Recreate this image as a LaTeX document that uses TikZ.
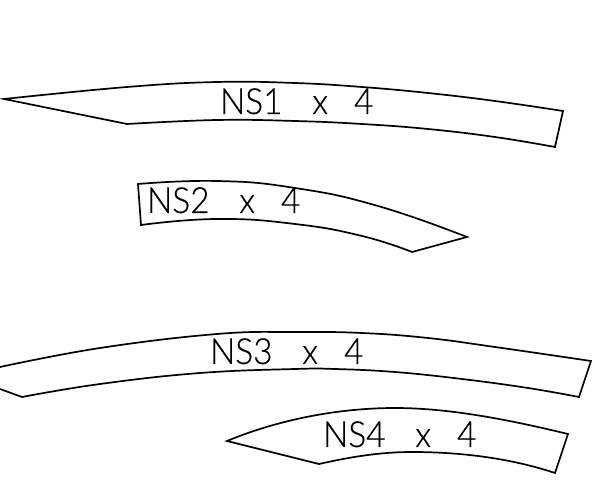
\documentclass[tikz,border=0pt]{standalone}
\usepackage{fontspec}
\setmainfont{Lato}[UprightFont=* Light,FakeBold=0.35,AutoFakeBold=false]
\tikzset{
  outline/.style={draw=black,line width=1.7pt,line join=miter},
  tag/.style={anchor=base west,inner sep=0pt,outer sep=0pt,text=black},
}
\newcommand{\nslabel}[1]{\scalebox{0.93}[1]{\fontsize{36pt}{36pt}\selectfont #1}}
\newcommand{\gapx}{\hspace*{32pt}}
\newcommand{\gapy}{\hspace*{28pt}}
\begin{document}
\begin{tikzpicture}[x=1pt,y=-1pt]
\useasboundingbox (0,0) rectangle (595,486);
\fill[white] (0,0) rectangle (595,486);
% NS1
\draw[outline] (4,99) -- plot[smooth,tension=0.7] coordinates {(4,99) (127,87) (217,82) (295,83) (362,87) (428,93) (495,101) (563,111)}
  -- (555,147) -- plot[smooth,tension=0.7] coordinates {(555,147) (495,137) (428,129) (362,124) (295,121) (217,120) (127,124)} -- cycle;
% NS2
\draw[outline] (138,184) -- plot[smooth,tension=0.8] coordinates {(138,184) (217,181) (295,188) (378,206) (467,237)}
  -- (412,252) -- plot[smooth,tension=0.8] coordinates {(412,252) (362,236) (295,224) (217,219) (141,225)} -- cycle;
% NS3 (runs off the left edge)
\draw[outline] (0,367) -- plot[smooth,tension=0.7] coordinates {(0,367) (100,348) (217,334) (295,332) (362,333) (428,338) (495,347) (591,361)}
  -- (579,397) -- plot[smooth,tension=0.7] coordinates {(579,397) (528,388) (462,379) (395,372) (335,369) (295,369) (200,373) (100,384) (22,397)} -- (0,389);
% NS4
\draw[outline] (227,441) .. controls (280,419) and (340,408) .. (395,408)
  .. controls (450,408) and (510,420) .. (568,434)
  -- (555,473) .. controls (510,458) and (460,452) .. (412,452)
  .. controls (380,452) and (350,457) .. (319,464) -- cycle;
\node[tag] (ns1) at (220,114) {\nslabel{NS1\gapx x\gapy 4}};
\node[tag] (ns2) at (147,213) {\nslabel{NS2\gapx x\gapy 4}};
\node[tag] (ns3) at (210,364) {\nslabel{NS3\gapx x\gapy 4}};
\node[tag] (ns4) at (323,447) {\nslabel{NS4\gapx x\gapy 4}};
\end{tikzpicture}
\end{document}
